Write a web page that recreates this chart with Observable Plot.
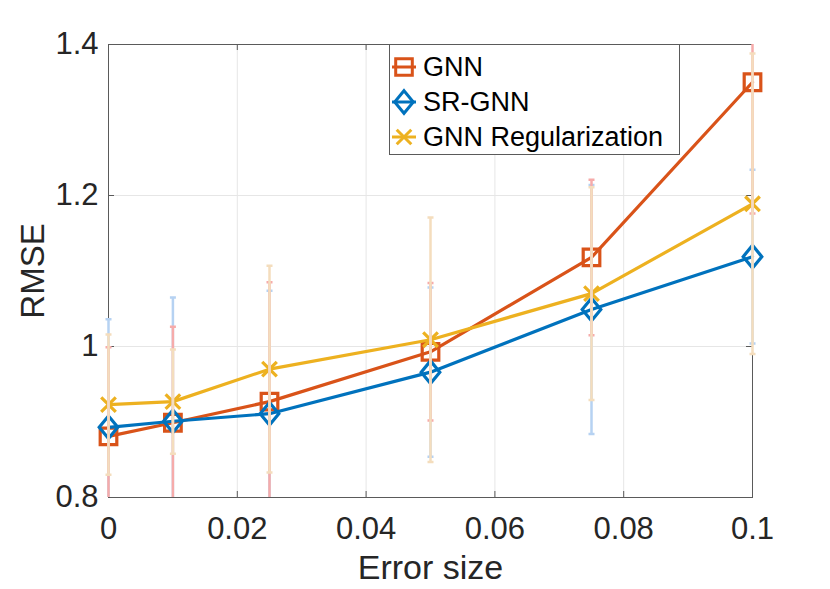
<!DOCTYPE html>
<html><head><meta charset="utf-8">
<script src="https://cdn.jsdelivr.net/npm/d3@7"></script>
<script src="https://cdn.jsdelivr.net/npm/@observablehq/plot@0.6"></script>
<style>body{margin:0;background:#fff}#chart{width:830px;height:589px}</style>
</head><body><div id="chart"></div>
<script>
// ---- data ----
const errorSize = [0, 0.01, 0.025, 0.05, 0.075, 0.1];
const gnnMean   = [0.881, 0.899, 0.927, 0.993, 1.118, 1.350];
const gnnStd    = [0.118, 0.127, 0.158, 0.091, 0.103, 0.174];
const srMean    = [0.893, 0.901, 0.911, 0.966, 1.049, 1.119];
const srStd     = [0.143, 0.164, 0.163, 0.112, 0.165, 0.115];
const regMean   = [0.923, 0.927, 0.970, 1.009, 1.070, 1.189];
const regStd    = [0.093, 0.069, 0.137, 0.162, 0.141, 0.199];
const seriesNames = ["GNN", "SR-GNN", "GNN Regularization"];
const xTicks = [0, 0.02, 0.04, 0.06, 0.08, 0.1];
const yTicks = [0.8, 1, 1.2, 1.4];

// ---- symbols ----
const squareSym = {draw(c){ const h=8.3; c.moveTo(-h,-h); c.lineTo(h,-h); c.lineTo(h,h); c.lineTo(-h,h); c.closePath(); }};
const diamondSym = {draw(c){ const w=9.3, h=11.3; c.moveTo(0,-h); c.lineTo(w,0); c.lineTo(0,h); c.lineTo(-w,0); c.closePath(); }};
const timesSym = {draw(c){ const h=7.3; c.moveTo(-h,-h); c.lineTo(h,h); c.moveTo(h,-h); c.lineTo(-h,h); }};
const capSym = {draw(c){ c.moveTo(-3,0); c.lineTo(3,0); }};

const axisColor = "#262626";
const series = [
  {name: seriesNames[0], mean: gnnMean, std: gnnStd, color: "#D95319", bar: "#f6abaa", symbol: squareSym},
  {name: seriesNames[1], mean: srMean,  std: srStd,  color: "#0072BD", bar: "#b6d2f2", symbol: diamondSym},
  {name: seriesNames[2], mean: regMean, std: regStd, color: "#EDB120", bar: "#f4ddbd", symbol: timesSym}
];
const barColors = series.map(s => s.bar);
const rowsOf = s => errorSize.map((x, i) => ({x, y: s.mean[i], lo: s.mean[i] - s.std[i], hi: s.mean[i] + s.std[i]}));

const marks = [
  Plot.gridX(xTicks, {stroke: "#e6e6e6", strokeOpacity: 1}),
  Plot.gridY(yTicks, {stroke: "#e6e6e6", strokeOpacity: 1}),
  Plot.frame({stroke: "#5a5a5a", strokeWidth: 1}),
  Plot.tickX(xTicks, {x: d => d, insetTop: 447, stroke: "#5a5a5a"}),
  Plot.tickX(xTicks, {x: d => d, insetBottom: 447, stroke: "#5a5a5a"}),
  Plot.tickY(yTicks, {y: d => d, insetRight: 638, stroke: "#5a5a5a"}),
  Plot.tickY(yTicks, {y: d => d, insetLeft: 638, stroke: "#5a5a5a"})
];
for (const s of series) {
  const rows = rowsOf(s);
  marks.push(Plot.line(rows, {x: "x", y: "y", stroke: s.color, strokeWidth: 3.2}));
  marks.push(Plot.dot(rows, {x: "x", y: "y", symbol: () => s.symbol, r: 5, stroke: s.color, strokeWidth: 3.2, fill: "none"}));
}
for (const s of [series[1], series[0], series[2]]) {
  const rows = rowsOf(s);
  marks.push(Plot.ruleX(rows, {x: "x", y1: "lo", y2: "hi", stroke: s.bar, strokeWidth: 2.5}));
  marks.push(Plot.dot(rows, {x: "x", y: "lo", symbol: () => capSym, stroke: s.bar, strokeWidth: 2.5, fill: "none"}));
  marks.push(Plot.dot(rows, {x: "x", y: "hi", symbol: () => capSym, stroke: s.bar, strokeWidth: 2.5, fill: "none"}));
}
marks.push(
  Plot.axisX({ticks: xTicks, tickSize: 0, tickPadding: 19, tickFormat: d => String(d), fontSize: 31, label: null}),
  Plot.axisY({ticks: yTicks, tickSize: 0, tickPadding: 10, tickFormat: d => String(d), fontSize: 31, label: null}),
  Plot.text(["Error size"], {text: d => d, frameAnchor: "bottom", lineAnchor: "middle", textAnchor: "middle", dy: 71, fontSize: 34, fill: axisColor}),
  Plot.text(["RMSE"], {text: d => d, frameAnchor: "left", lineAnchor: "middle", textAnchor: "middle", dx: -75, rotate: -90, fontSize: 33, fill: axisColor})
);

const plot = Plot.plot({
  width: 830, height: 589,
  marginLeft: 108, marginRight: 78, marginTop: 44, marginBottom: 92,
  x: {domain: [0, 0.1]},
  y: {domain: [0.8, 1.4]},
  style: {fontFamily: "'Liberation Sans', Arial, sans-serif", color: axisColor, background: "#fff", overflow: "visible"},
  marks
});

// clip error bars vertically to the axes box (as the original does)
const svg = d3.select(plot);
svg.append("defs").append("clipPath").attr("id", "eb-clip").attr("clipPathUnits", "userSpaceOnUse")
  .append("rect").attr("x", -20).attr("y", 44).attr("width", 870).attr("height", 453);
svg.selectAll("g").filter(function() {
  const st = (this.getAttribute("stroke") || "").toLowerCase();
  return barColors.includes(st);
}).attr("clip-path", "url(#eb-clip)");

// legend
const lg = svg.append("g").attr("text-anchor", "start");
lg.append("rect").attr("x", 389.5).attr("y", 44.5).attr("width", 290).attr("height", 110)
  .attr("fill", "#fff").attr("stroke", "#5a5a5a").attr("stroke-width", 1);
series.forEach((s, i) => {
  const cy = 67 + i * 35;
  const g = lg.append("g").attr("transform", `translate(404,${cy})`);
  g.append("line").attr("x1", -12).attr("x2", 12).attr("stroke", s.color).attr("stroke-width", 3);
  g.append("path").attr("d", d3.symbol().type(s.symbol)()).attr("fill", "none").attr("stroke", s.color).attr("stroke-width", 3);
  lg.append("text").attr("x", 423).attr("y", cy).attr("dy", "0.35em").attr("text-anchor", "start")
    .attr("font-size", 27).attr("fill", "#000").text(s.name);
});

document.getElementById("chart").appendChild(plot);
</script>
</body></html>
